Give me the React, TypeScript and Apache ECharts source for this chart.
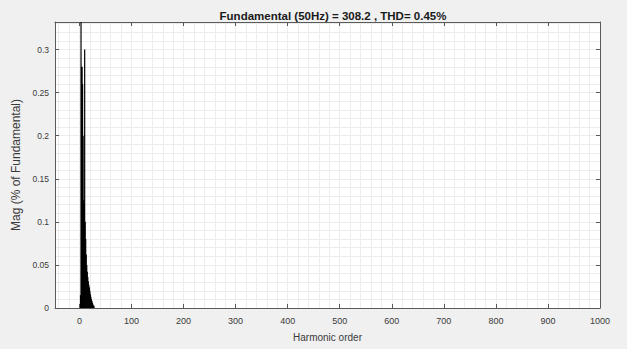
import React, { useEffect, useRef } from 'react';
import * as echarts from 'echarts';

// Harmonic spectrum (harmonic order -> magnitude in % of fundamental)
const harmonicOrders = [2, 3, 4, 5, 6, 7, 8, 9, 10, 11, 12, 13, 14, 15, 16, 17, 18, 19, 20, 21, 22, 23, 24, 25, 26, 27, 28];
const magnitudes = [0.015, 0.332, 0.28, 0.28, 0.26, 0.2, 0.125, 0.12, 0.3, 0.1, 0.08, 0.062, 0.05, 0.042, 0.036, 0.031, 0.027, 0.024, 0.02, 0.016, 0.013, 0.01, 0.008, 0.006, 0.004, 0.003, 0.002];

const xTickLabels = [0, 100, 200, 300, 400, 500, 600, 700, 800, 900, 1000];
const yTickLabels = [0, 0.05, 0.1, 0.15, 0.2, 0.25, 0.3];

const X_MIN = -47;
const X_MAX = 1000;
const Y_MIN = 0;
const Y_MAX = 0.332;

const titleText = 'Fundamental (50Hz) = 308.2 , THD= 0.45%';
const xName = 'Harmonic order';
const yName = 'Mag (% of Fundamental)';

const xGridValues: number[] = [];
for (let v = -40; v <= 1000; v += 20) xGridValues.push(v);
const yGridValues: number[] = [];
for (let i = 0; i <= 33; i++) yGridValues.push(+(i * 0.01).toFixed(2));

const FONT = '"Liberation Sans", Arial, sans-serif';
const AXIS_COLOR = '#5a5a5a';
const LABEL_COLOR = '#3a3a3a';

export default function App() {
  const ref = useRef<HTMLDivElement>(null);
  useEffect(() => {
    if (!ref.current) return;
    const chart = echarts.init(ref.current, undefined, { renderer: 'svg' });
    const lineStyle = { color: AXIS_COLOR, width: 1 };
    const gridStyle = { color: '#ececec', width: 1, type: 'solid' as const };
    chart.setOption({
      animation: false,
      backgroundColor: '#f0f0f0',
      textStyle: { fontFamily: FONT },
      title: {
        text: titleText,
        left: 328,
        textAlign: 'center',
        top: 5,
        textStyle: { fontSize: 11.5, fontWeight: 'bold', color: '#1a1a1a', fontFamily: FONT },
      },
      grid: {
        left: 55,
        right: 27,
        top: 22,
        bottom: 41,
        show: true,
        backgroundColor: '#ffffff',
        borderWidth: 0,
      },
      xAxis: [
        {
          type: 'value',
          min: X_MIN,
          max: X_MAX,
          position: 'bottom',
          name: xName,
          nameLocation: 'middle',
          nameGap: 24,
          nameTextStyle: { fontSize: 10, color: LABEL_COLOR, fontFamily: FONT },
          axisLine: { show: true, lineStyle, onZero: false },
          axisTick: { show: true, inside: true, length: 4, lineStyle, customValues: xTickLabels },
          axisLabel: {
            show: true,
            customValues: xTickLabels,
            formatter: (v: number) => String(v),
            fontSize: 9,
            color: LABEL_COLOR,
            margin: 8,
            fontFamily: FONT,
          },
          splitLine: { show: false },
        },
        {
          type: 'value',
          min: X_MIN,
          max: X_MAX,
          position: 'top',
          axisLine: { show: true, lineStyle, onZero: false },
          axisTick: { show: true, inside: true, length: 4, lineStyle, customValues: xTickLabels },
          axisLabel: { show: false },
          splitLine: { show: false },
        },
        {
          type: 'value',
          min: X_MIN,
          max: X_MAX,
          position: 'bottom',
          axisLine: { show: false },
          axisTick: { show: false, customValues: xGridValues },
          axisLabel: { show: false },
          splitLine: { show: true, lineStyle: gridStyle },
        },
      ],
      yAxis: [
        {
          type: 'value',
          min: Y_MIN,
          max: Y_MAX,
          position: 'left',
          name: yName,
          nameLocation: 'middle',
          nameGap: 28,
          nameTextStyle: { fontSize: 12, color: LABEL_COLOR, fontFamily: FONT },
          axisLine: { show: true, lineStyle, onZero: false },
          axisTick: { show: true, inside: true, length: 4, lineStyle, customValues: yTickLabels },
          axisLabel: {
            show: true,
            customValues: yTickLabels,
            formatter: (v: number) => String(v),
            fontSize: 8.5,
            color: LABEL_COLOR,
            margin: 6,
            fontFamily: FONT,
          },
          splitLine: { show: false },
        },
        {
          type: 'value',
          min: Y_MIN,
          max: Y_MAX,
          position: 'right',
          axisLine: { show: true, lineStyle, onZero: false },
          axisTick: { show: true, inside: true, length: 4, lineStyle, customValues: yTickLabels },
          axisLabel: { show: false },
          splitLine: { show: false },
        },
        {
          type: 'value',
          min: Y_MIN,
          max: Y_MAX,
          position: 'left',
          axisLine: { show: false },
          axisTick: { show: false, customValues: yGridValues },
          axisLabel: { show: false },
          splitLine: { show: true, lineStyle: gridStyle },
        },
      ],
      series: [
        {
          type: 'bar',
          xAxisIndex: 0,
          yAxisIndex: 0,
          barWidth: 1.2,
          itemStyle: { color: '#000000' },
          data: harmonicOrders.map((h, i) => [h, magnitudes[i]]),
        },
      ],
    });
    return () => chart.dispose();
  }, []);
  return <div ref={ref} style={{ position: 'fixed', left: 0, top: 0, width: 627, height: 349 }} />;
}
